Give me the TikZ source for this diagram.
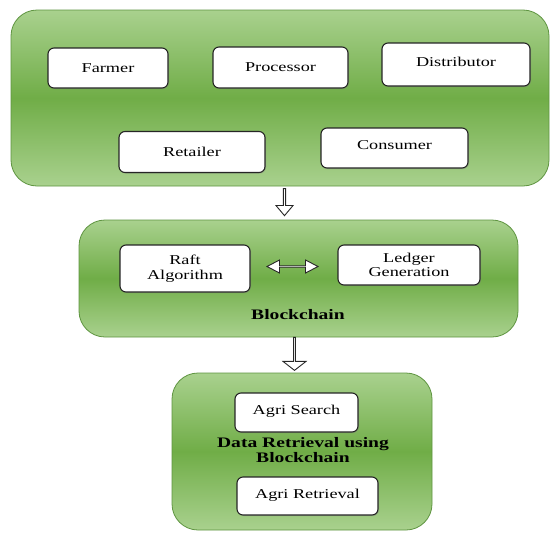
\documentclass[tikz,border=0pt]{standalone}
\usepackage{fontspec}
\setmainfont{Liberation Serif}[FakeStretch=1.35]
\usetikzlibrary{shapes.arrows,shadows}
\definecolor{glight}{HTML}{A9D18E}
\definecolor{gdark}{HTML}{70AD47}
\definecolor{gborder}{HTML}{5E9440}
\tikzset{
  container/.style={rectangle, rounded corners=26pt, draw=gborder, line width=0.8pt,
    top color=glight, bottom color=glight, middle color=gdark, inner sep=0pt},
  actor/.style={rectangle, rounded corners=6pt, draw=black!85, line width=1.1pt, fill=white,
    inner sep=0pt, align=center, font=\fontsize{13.5}{14.5}\selectfont,
    drop shadow={shadow xshift=1pt, shadow yshift=-1pt, opacity=0.35}},
  title/.style={font=\fontsize{14.5}{15.5}\selectfont\bfseries, align=center},
  downarrow/.style={single arrow, draw=black!85, line width=0.9pt, fill=white, inner sep=0pt,
    rotate=-90, single arrow head indent=0pt},
}
\begin{document}
\begin{tikzpicture}[x=1pt,y=-1pt]
\useasboundingbox (0,0) rectangle (551,533);
% top container
\node[container, minimum width=538pt, minimum height=176pt] (top) at (280,98) {};
\node[actor, minimum width=120pt, minimum height=40pt] (farmer) at (108,68) {Farmer};
\node[actor, minimum width=135pt, minimum height=41pt] (processor) at (280.5,67.5) {Processor};
\node[actor, minimum width=148pt, minimum height=43pt, text depth=6pt] (distributor) at (456,64.5) {Distributor};
\node[actor, minimum width=146pt, minimum height=41pt] (retailer) at (192,152) {Retailer};
\node[actor, minimum width=147pt, minimum height=40pt, text depth=5pt] (consumer) at (394.5,148) {Consumer};
% arrow 1
\node[downarrow, minimum height=27pt, minimum width=17pt, single arrow head extend=3pt,
  single arrow tip angle=80] (arr1) at (284.5,201.5) {};
% middle container
\node[container, minimum width=439pt, minimum height=117pt] (mid) at (298.5,278.5) {};
\node[actor, minimum width=130pt, minimum height=47pt] (raft) at (185,268.5) {Raft\\Algorithm};
\node[actor, minimum width=142pt, minimum height=40pt] (ledger) at (409,265) {Ledger\\Generation};
\node[double arrow, draw=black!85, line width=0.9pt, fill=white, inner sep=0pt,
  minimum height=51pt, minimum width=13pt, double arrow head extend=3.5pt,
  double arrow tip angle=55, double arrow head indent=0pt] (dbl) at (292.5,266.5) {};
\node[title] (bclabel) at (298,315) {Blockchain};
% arrow 2
\node[downarrow, minimum height=33pt, minimum width=23pt, single arrow head extend=5pt,
  single arrow tip angle=104] (arr2) at (294.5,353.5) {};
% bottom container
\node[container, minimum width=260pt, minimum height=157pt] (bot) at (302,451.5) {};
\node[actor, minimum width=123pt, minimum height=39pt, text depth=5pt] (search) at (296.5,412.5) {Agri Search};
\node[actor, minimum width=141pt, minimum height=38pt, text depth=5pt] (retrieval) at (307.5,496) {Agri Retrieval};
\node[title] (drlabel) at (303,450) {Data Retrieval using\\Blockchain};
\end{tikzpicture}
\end{document}
